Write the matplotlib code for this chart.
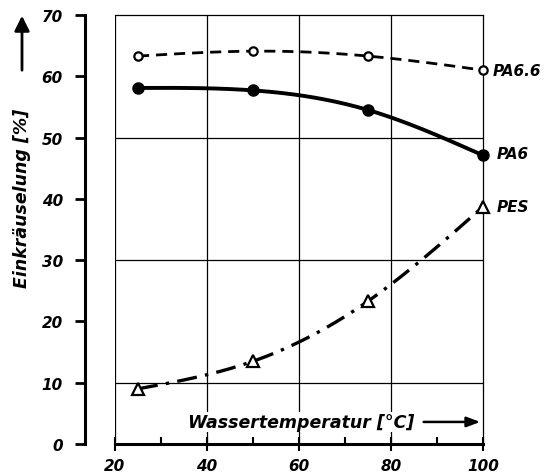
import numpy as np
import matplotlib
matplotlib.use("Agg")
import matplotlib.pyplot as plt

# Data
temps = [25, 50, 75, 100]
pa66 = [63.3, 64.1, 63.3, 61.0]
pa6 = [58.1, 57.7, 54.5, 47.1]
pes = [9.0, 13.5, 23.3, 38.7]
xticks = [20, 40, 60, 80, 100]
yticks = [0, 10, 20, 30, 40, 50, 60, 70]


def smooth(x, y, n=200):
    """Natural cubic spline through the points, for drawing a smooth curve."""
    x = np.asarray(x, float)
    y = np.asarray(y, float)
    m = len(x)
    h = np.diff(x)
    A = np.zeros((m, m))
    b = np.zeros(m)
    A[0, 0] = A[-1, -1] = 1
    for i in range(1, m - 1):
        A[i, i - 1] = h[i - 1]
        A[i, i] = 2 * (h[i - 1] + h[i])
        A[i, i + 1] = h[i]
        b[i] = 6 * ((y[i + 1] - y[i]) / h[i] - (y[i] - y[i - 1]) / h[i - 1])
    M = np.linalg.solve(A, b)
    xs = np.linspace(x[0], x[-1], n)
    ys = np.empty_like(xs)
    for k, xv in enumerate(xs):
        i = min(np.searchsorted(x, xv, side="right") - 1, m - 2)
        t1 = x[i + 1] - xv
        t0 = xv - x[i]
        ys[k] = (M[i] * t1 ** 3 / (6 * h[i]) + M[i + 1] * t0 ** 3 / (6 * h[i])
                 + (y[i] / h[i] - M[i] * h[i] / 6) * t1
                 + (y[i + 1] / h[i] - M[i + 1] * h[i] / 6) * t0)
    return xs, ys


fig = plt.figure(figsize=(5.49, 4.77), dpi=100)
W, H = 549, 477
left, right, top, bottom = 115, 483, 16, 445
ax = fig.add_axes([left / W, (H - bottom) / H, (right - left) / W, (bottom - top) / H])
ax.set_xlim(20, 100)
ax.set_ylim(0, 70)

# Grid (only selected lines)
for gx in [20, 40, 60, 80]:
    ax.axvline(gx, color="black", lw=0.9, zorder=1)
for gy in [10, 30, 50]:
    ax.axhline(gy, color="black", lw=0.9, zorder=1)

# Spines (30 px outward = 21.6 pt)
ax.spines["left"].set_position(("outward", 21.6))
ax.spines["left"].set_linewidth(2.2)
ax.spines["bottom"].set_linewidth(2.2)
ax.spines["top"].set_linewidth(0.9)
ax.spines["right"].set_linewidth(0.9)

ax.set_xticks(xticks)
ax.set_xticks([30, 50, 70, 90], minor=True)
ax.set_yticks(yticks)
tickfont = dict(fontsize=11, fontweight="bold", fontstyle="italic")
ax.set_xticklabels([str(v) for v in xticks], **tickfont)
ax.set_yticklabels([str(v) for v in yticks], **tickfont)
ax.tick_params(axis="x", which="major", direction="inout", length=10, width=1.5, pad=5)
ax.tick_params(axis="x", which="minor", direction="in", length=5, width=1.5)
ax.tick_params(axis="y", which="major", direction="out", length=7, width=2, pad=9)

# Curves
xs, ys = smooth(temps, pa66)
ax.plot(xs, ys, color="black", lw=2.0, ls=(0, (4, 2.5)), zorder=3, clip_on=False)
ax.plot(temps, pa66, "o", ms=6, mfc="white", mec="black", mew=1.6, zorder=4, clip_on=False)

xs, ys = smooth(temps, pa6)
ax.plot(xs, ys, color="black", lw=2.8, zorder=3, clip_on=False)
ax.plot(temps, pa6, "o", ms=8, mfc="black", mec="black", zorder=4, clip_on=False)

xs, ys = smooth(temps, pes)
ax.plot(xs, ys, color="black", lw=2.4, ls=(0, (6, 2.5, 1, 2.5)), zorder=3, clip_on=False)
ax.plot(temps, pes, "^", ms=8, mfc="white", mec="black", mew=1.6, zorder=4, clip_on=False)

labfont = dict(fontsize=11, fontweight="bold", fontstyle="italic", va="center", ha="left")
ax.annotate("PA6.6", (temps[-1], pa66[-1]), xytext=(7, 0), textcoords="offset points",
            annotation_clip=False, **labfont)
ax.annotate("PA6", (temps[-1], pa6[-1]), xytext=(10, 1), textcoords="offset points",
            annotation_clip=False, **labfont)
ax.annotate("PES", (temps[-1], pes[-1]), xytext=(10, 0), textcoords="offset points",
            annotation_clip=False, **labfont)

# X label with arrow, inside the lower band
ax.text(60.5, 3.6, "Wassertemperatur [°C]", ha="center", va="center",
        fontsize=12.5, fontweight="bold", fontstyle="italic", zorder=5,
        bbox=dict(facecolor="white", edgecolor="none", pad=1))
ax.annotate("", xy=(100, 3.6), xytext=(86.5, 3.6),
            arrowprops=dict(arrowstyle="-|>,head_length=0.8,head_width=0.3", color="black", lw=1.8),
            zorder=5)

# Y label with arrow
fig.text(22 / W, (H - 198) / H, "Einkräuselung [%]", rotation=90, ha="center", va="center",
         fontsize=12.5, fontweight="bold", fontstyle="italic")
fig.add_artist(matplotlib.patches.FancyArrowPatch(
    (22 / W, (H - 74) / H), (22 / W, (H - 14) / H), transform=fig.transFigure,
    arrowstyle="-|>,head_length=6,head_width=3", color="black", lw=2, mutation_scale=1.5))

fig.savefig("out.png", dpi=100)
